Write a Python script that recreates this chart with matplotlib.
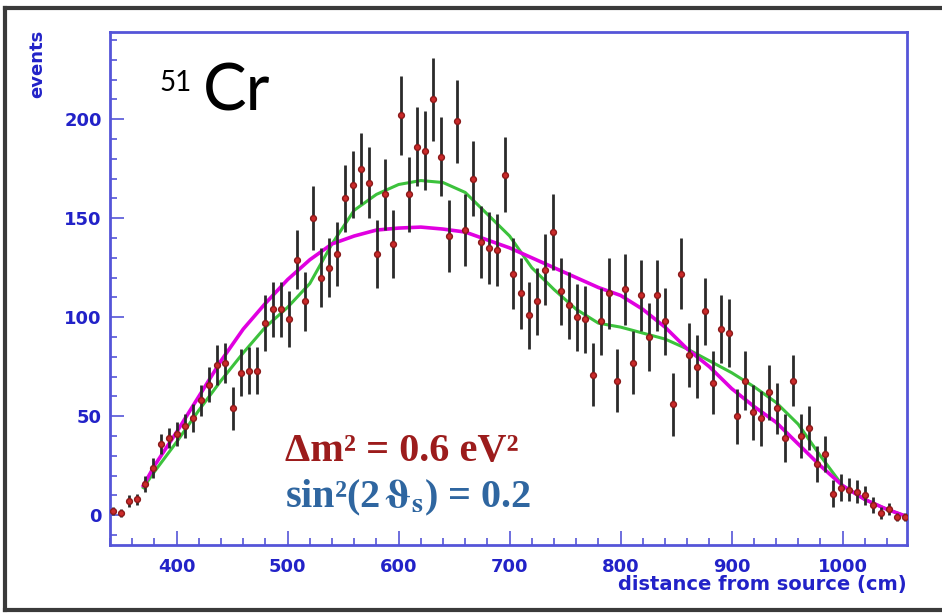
import matplotlib
matplotlib.use('Agg')
import matplotlib.pyplot as plt
from matplotlib.ticker import MultipleLocator
from matplotlib.lines import Line2D

plt.rcParams['mathtext.fontset'] = 'stix'

# measured bins (distance from source, cm)
x_pos = [343.0, 350.2, 357.4, 364.6, 371.8, 379.0, 386.2, 393.4, 400.6, 407.8,
         415.0, 422.2, 429.4, 436.6, 443.8, 451.0, 458.2, 465.4, 472.6, 479.8,
         487.0, 494.2, 501.4, 508.6, 515.8, 523.0, 530.2, 537.4, 544.6, 551.8,
         559.0, 566.2, 573.4, 580.6, 587.8, 595.0, 602.2, 609.4, 616.6, 623.8,
         631.0, 638.2, 645.4, 652.6, 659.8, 667.0, 674.2, 681.4, 688.6, 695.8,
         703.0, 710.2, 717.4, 724.6, 731.8, 739.0, 746.2, 753.4, 760.6, 767.8,
         775.0, 782.2, 789.4, 796.6, 803.8, 811.0, 818.2, 825.4, 832.6, 839.8,
         847.0, 854.2, 861.4, 868.6, 875.8, 883.0, 890.2, 897.4, 904.6, 911.8,
         919.0, 926.2, 933.4, 940.6, 947.8, 955.0, 962.2, 969.4, 976.6, 983.8,
         991.0, 998.2, 1005.4, 1012.6, 1019.8, 1027.0, 1034.2, 1041.4, 1048.6, 1055.8]

events = [2, 1, 7, 8, 16, 24, 36, 39, 41, 45,
          49, 58, 66, 76, 77, 54, 72, 73, 73, 97,
          104, 104, 99, 129, 108, 150, 120, 125, 132, 160,
          167, 175, 168, 132, 162, 137, 202, 162, 186, 184,
          210, 181, 141, 199, 144, 170, 138, 135, 134, 172,
          122, 112, 101, 108, 124, 143, 113, 106, 100, 99,
          71, 98, 112, 68, 114, 77, 111, 90, 111, 98,
          56, 122, 81, 75, 103, 67, 94, 92, 50, 68,
          52, 49, 62, 54, 39, 68, 40, 44, 26, 31,
          11, 14, 13, 12, 10, 5, 1, 3, -1, -1]

errors = [2, 2, 3, 3, 4, 5, 5, 5, 6, 6,
          7, 8, 9, 10, 10, 11, 12, 12, 12, 14,
          14, 14, 14, 15, 15, 16, 15, 15, 16, 17,
          17, 18, 18, 17, 18, 17, 20, 19, 20, 20,
          21, 20, 18, 21, 18, 19, 18, 18, 18, 19,
          18, 18, 17, 17, 18, 19, 17, 17, 17, 17,
          16, 17, 18, 16, 18, 16, 18, 17, 18, 17,
          16, 18, 16, 16, 17, 16, 17, 17, 14, 15,
          14, 14, 14, 13, 12, 13, 11, 11, 9, 9,
          7, 7, 6, 6, 5, 4, 3, 3, 2, 2]

# expected curves
curve_x = [370, 380, 400, 420, 440, 460, 480, 500, 520, 540, 560, 580, 600,
           620, 640, 660, 680, 700, 720, 740, 760, 780, 800, 820, 840, 860,
           880, 900, 920, 940, 960, 980, 1000, 1020, 1040, 1055]
green_y = [14, 22, 37, 53, 68, 82, 95, 105, 117, 137, 154, 162, 167,
           169, 168, 163, 152, 141, 125, 114, 104, 97, 95, 92, 89, 84,
           78, 72, 65, 57, 46, 30, 15, 8, 3, 0]
magenta_y = [15, 25, 42, 60, 78, 94, 107, 119, 129, 137, 141, 144, 145,
             145.5, 144.5, 143, 139, 135, 130, 125, 120, 115, 111, 104, 95, 84,
             75, 64, 55, 47, 36, 25, 15, 8, 3, 0]

blue = '#2222c8'
frame_blue = '#5555d8'

fig = plt.figure(figsize=(9.42, 6.15), dpi=100)
ax = fig.add_axes([0.1168, 0.1138, 0.8460, 0.8342])

ax.plot(curve_x, green_y, color='#3cc23c', lw=2.2, zorder=2)
ax.plot(curve_x, magenta_y, color='#e000e0', lw=2.6, zorder=3)
ax.errorbar(x_pos, events, yerr=errors, fmt='o', color='#cc2a2a',
            ms=4.2, mec='#8a1a1a', ecolor='#2a2a2a', elinewidth=2.0,
            capsize=0, zorder=4)

ax.set_xlim(340, 1058)
ax.set_ylim(-15, 244)
ax.xaxis.set_major_locator(MultipleLocator(100))
ax.xaxis.set_minor_locator(MultipleLocator(20))
ax.yaxis.set_major_locator(MultipleLocator(50))
ax.yaxis.set_minor_locator(MultipleLocator(10))
ax.tick_params(which='both', direction='in', color=frame_blue, width=1.2,
               labelcolor=blue, labelsize=13)
ax.tick_params(which='major', length=10)
ax.tick_params(which='minor', length=5)
ax.tick_params(axis='x', pad=9)
ax.tick_params(axis='y', pad=6)
for lab in ax.get_xticklabels() + ax.get_yticklabels():
    lab.set_fontweight('bold')
for sp in ax.spines.values():
    sp.set_color(frame_blue)
    sp.set_linewidth(2)

fig.text(0.040, 0.952, 'events', rotation=90, ha='center', va='top',
         color=blue, fontsize=13, fontweight='bold')
fig.text(0.9628, 0.049, 'distance from source (cm)', ha='right', va='center',
         color=blue, fontsize=14, fontweight='bold')

# source label
ax.text(0.062, 0.925, '51', transform=ax.transAxes, fontsize=20,
        family='Lato', color='black', va='top', ha='left')
ax.text(0.117, 0.846, 'Cr', transform=ax.transAxes, fontsize=47,
        family='Lato', color='black', va='baseline', ha='left')

# oscillation parameters
ax.text(0.219, 0.182, 'Δm² = 0.6 eV²', transform=ax.transAxes,
        fontsize=29, fontweight='bold', family='Liberation Serif',
        color='#9c1c1c', va='center', ha='left')
ax.text(0.219, 0.092, r'sin²(2$\,\boldsymbol{\vartheta}_{\mathbf{s}}$) = 0.2',
        transform=ax.transAxes, fontsize=29, fontweight='bold',
        family='Liberation Serif', color='#2f66a0', va='center', ha='left')

# outer frame of the picture
for xs, ys in [([0.005, 1.0], [0.987, 0.987]),
               ([0.005, 0.005], [0.987, 0.008]),
               ([0.005, 1.0], [0.008, 0.008])]:
    fig.add_artist(Line2D(xs, ys, transform=fig.transFigure,
                          color='#3a3a3a', lw=3))

plt.savefig('out.png', dpi=100)
